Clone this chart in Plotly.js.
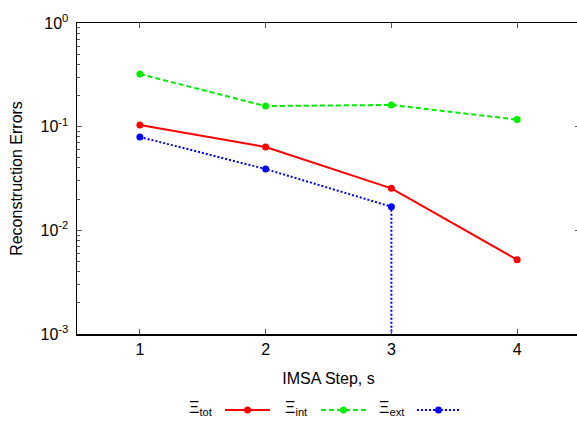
<!DOCTYPE html>
<html>
<head>
<meta charset="utf-8">
<script src="https://cdn.plot.ly/plotly-3.0.1.min.js"></script>
<style>
html,body{margin:0;padding:0;overflow:hidden;background:#fff;}
#chart{width:580px;height:421px;}
</style>
</head>
<body>
<div id="chart"></div>
<script>
// ---- data ----
var steps = [1, 2, 3, 4];
var xiTot = [0.104, 0.0637, 0.0254, 0.0052];
var xiInt = [0.322, 0.158, 0.162, 0.117];
var xiExtSteps = [1, 2, 3, 3];
var xiExt = [0.0796, 0.0390, 0.0169, 0.00001];
var seriesNames = ['Ξ<sub>tot</sub>', 'Ξ<sub>int</sub>', 'Ξ<sub>ext</sub>'];
var yTickVals = [0.001, 0.01, 0.1, 1];
var yTickText = ['10<sup>-3</sup>', '10<sup>-2</sup>', '10<sup>-1</sup>', '10<sup>0</sup>'];
var xTickVals = [1, 2, 3, 4];
var xTickText = ['1', '2', '3', '4'];

// ---- styling ----
var colors = ['#ff0000', '#00ee00', '#0000ff'];
var dashes = ['solid', '5px,3px', '2px,2px'];
var FONT = 'Liberation Sans, Arial, sans-serif';

// minor ticks 2..9 per decade
var minorVals = [];
for (var d = -3; d < 0; d++) {
  for (var m = 2; m <= 9; m++) minorVals.push(m * Math.pow(10, d));
}

var plotL = 77, plotR = 580, plotT = 23, plotB = 334;
function px(x) { return (x - plotL) / (plotR - plotL); }
function py(y) { return (plotB - y) / (plotB - plotT); }

var traces = [
  {x: steps, y: xiTot, name: seriesNames[0]},
  {x: steps, y: xiInt, name: seriesNames[1]},
  {x: xiExtSteps, y: xiExt, name: seriesNames[2]}
].map(function (t, i) {
  t.type = 'scatter';
  t.mode = 'lines+markers';
  t.line = {color: colors[i], width: 2, dash: dashes[i]};
  t.marker = {color: colors[i], size: 7};
  t.showlegend = false;
  t.cliponaxis = true;
  return t;
});

// manual legend: label then line sample
var legendLabelRight = [215, 310, 407];
var legendLineX = [[225, 270], [321, 366], [417, 460]];
var legendY = 410;
var annotations = [];
var shapes = [];
for (var i = 0; i < 3; i++) {
  annotations.push({
    xref: 'paper', yref: 'paper', x: px(legendLabelRight[i]), y: py(legendY - 2),
    xanchor: 'right', yanchor: 'middle', showarrow: false,
    text: seriesNames[i], font: {family: FONT, size: 16, color: '#000'}
  });
  shapes.push({
    type: 'line', xref: 'paper', yref: 'paper',
    x0: px(legendLineX[i][0]), x1: px(legendLineX[i][1]), y0: py(legendY), y1: py(legendY),
    line: {color: colors[i], width: 2, dash: dashes[i]}
  });
  var cx = (legendLineX[i][0] + legendLineX[i][1]) / 2;
  shapes.push({
    type: 'circle', xref: 'paper', yref: 'paper',
    x0: px(cx - 3.5), x1: px(cx + 3.5), y0: py(legendY - 3.5), y1: py(legendY + 3.5),
    fillcolor: colors[i], line: {color: colors[i], width: 0}
  });
}

var layout = {
  width: 580, height: 421,
  margin: {l: plotL, r: 580 - plotR, t: plotT, b: 421 - plotB, autoexpand: false},
  paper_bgcolor: '#fff', plot_bgcolor: '#fff',
  font: {family: FONT, size: 15, color: '#000'},
  showlegend: false,
  xaxis: {
    range: [0.5, 4.5], tickmode: 'array', tickvals: xTickVals, ticktext: xTickText,
    ticks: 'inside', ticklen: 5, tickcolor: '#555', tickwidth: 1,
    showline: true, linecolor: '#000', linewidth: 1.5, mirror: 'ticks',
    showgrid: false, zeroline: false, automargin: 'bottom',
    tickfont: {family: FONT, size: 16},
    title: {text: 'IMSA Step, s', font: {family: FONT, size: 16}, standoff: 16}
  },
  yaxis: {
    type: 'log', range: [-3, 0], tickmode: 'array', tickvals: yTickVals, ticktext: yTickText,
    ticks: 'inside', ticklen: 5, tickcolor: '#555', tickwidth: 1, ticklabelstandoff: 4,
    minor: {tickmode: 'array', tickvals: minorVals, ticks: 'inside', ticklen: 3, tickcolor: '#555', tickwidth: 1},
    showline: true, linecolor: '#000', linewidth: 1.5, mirror: 'ticks',
    showgrid: false, zeroline: false, automargin: 'left',
    tickfont: {family: FONT, size: 16},
    title: {text: 'Reconstruction Errors', font: {family: FONT, size: 16}, standoff: 14}
  },
  annotations: annotations,
  shapes: shapes
};

Plotly.newPlot('chart', traces, layout, {displayModeBar: false, staticPlot: true});
</script>
</body>
</html>
